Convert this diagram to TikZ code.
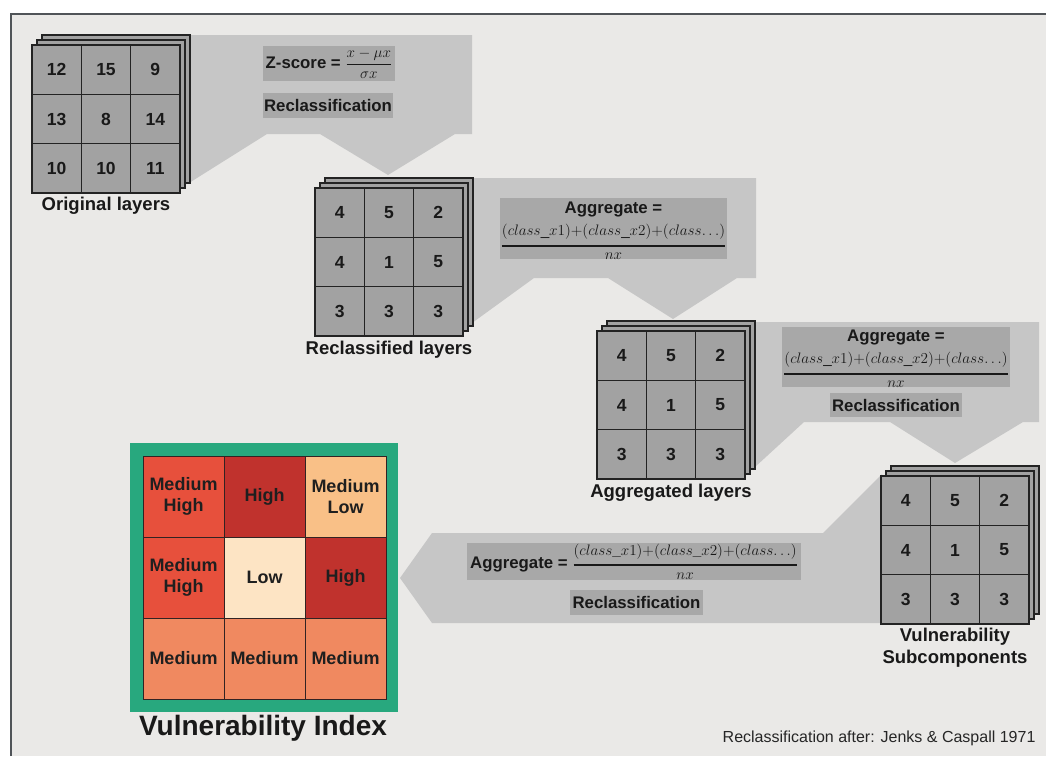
\RequirePackage{fix-cm}
\documentclass[tikz,border=0pt]{standalone}
\usepackage{amsmath}
\usepackage[no-math]{fontspec}
\setmainfont{Liberation Sans}
\definecolor{bgc}{RGB}{234,233,231}
\definecolor{frameline}{RGB}{80,84,88}
\definecolor{calloutgray}{RGB}{198,198,198}
\definecolor{boxgray}{RGB}{168,168,168}
\definecolor{cellgray}{RGB}{162,162,162}
\definecolor{gridline}{RGB}{35,35,35}
\definecolor{vline}{RGB}{50,35,35}
\definecolor{mhc}{RGB}{231,80,60}
\definecolor{hic}{RGB}{192,50,45}
\definecolor{mlc}{RGB}{249,192,135}
\definecolor{loc}{RGB}{253,228,196}
\definecolor{mec}{RGB}{240,137,96}
\definecolor{vgreen}{RGB}{40,168,126}
\newcommand\stackgrid[4]{%
  \draw[gridlayer] ({#2+10},{#3-10}) rectangle ++(148,148);
  \draw[gridlayer] ({#2+5},{#3-5}) rectangle ++(148,148);
  \foreach \v [count=\i from 0] in {#4} {%
    \pgfmathtruncatemacro\cc{mod(\i,3)}%
    \pgfmathtruncatemacro\rr{div(\i,3)}%
    \node[gcell] (#1-\i) at ({#2+24.67+49.33*\cc},{#3+24.67+49.33*\rr}) {\v};
  }%
}
\newcommand\aggfrac{\genfrac{}{}{1.8pt}{0}{(class\_x1){+}(class\_x2){+}(class{\ldots})}{nx}}
\begin{document}
\begin{tikzpicture}[x=1pt,y=-1pt,
  gridlayer/.style={draw=gridline, line width=1.3pt, fill=cellgray},
  gcell/.style={draw=gridline, line width=1.3pt, fill=cellgray, minimum width=49.33pt, minimum height=49.33pt, inner sep=0pt, font=\bfseries\fontsize{17.5}{17.5}\selectfont, text=black!90},
  calloutfill/.style={fill=calloutgray},
  formbox/.style={fill=boxgray, inner sep=0pt},
  formtext/.style={font=\bfseries\fontsize{16.8}{18}\selectfont, text=black!90, inner sep=0pt},
  mathtext/.style={font=\fontsize{15.2}{17}\selectfont, text=black!90, inner sep=0pt},
  layerlabel/.style={font=\bfseries\fontsize{18.5}{22}\selectfont, text=black!90, align=center},
  vcell/.style={draw=vline, line width=1pt, minimum width=81pt, minimum height=81pt, inner sep=0pt, align=center, font=\bfseries\fontsize{18}{21.5}\selectfont, text=black!88}
]
\useasboundingbox (0,0) rectangle (1046,756);
\fill[white] (0,0) rectangle (1046,756);
\fill[bgc] (11,14) rectangle (1046,756);
\draw[frameline, line width=2pt] (11,756) -- (11,14) -- (1046,14);

% callouts
\fill[calloutfill] (189,35) -- (472,35) -- (472,134) -- (455,134) -- (388,175) -- (320,134) -- (267,134) -- (189,183) -- cycle;
\fill[calloutfill] (472,178) -- (756,178) -- (756,278) -- (737,278) -- (673,319) -- (608,278) -- (534,278) -- (472,323) -- cycle;
\fill[calloutfill] (755,322) -- (1039,322) -- (1039,422) -- (1023,422) -- (955,463) -- (890,422) -- (804,422) -- (755,467) -- cycle;
\fill[calloutfill] (400,578) -- (432,533) -- (823,533) -- (882,474) -- (882,623) -- (432,623) -- cycle;

% grids
\stackgrid{ga}{32}{45}{12,15,9,13,8,14,10,10,11}
\stackgrid{gb}{315}{188}{4,5,2,4,1,5,3,3,3}
\stackgrid{gc}{597}{331}{4,5,2,4,1,5,3,3,3}
\stackgrid{gd}{881}{476}{4,5,2,4,1,5,3,3,3}

% labels
\node[layerlabel] (la) at (106,206) {Original layers};
\node[layerlabel] (lb) at (389,350) {Reclassified layers};
\node[layerlabel] (lc) at (671,493) {Aggregated layers};
\node[layerlabel] (ld) at (955,648) {Vulnerability\\Subcomponents};

% formula boxes 1
\node[formbox, minimum width=132pt, minimum height=35pt] (za) at (329,63.5) {};
\node[formtext] (zt) at (329,63.5) {Z-score = \fontsize{15.2}{17}\selectfont$\genfrac{}{}{1.2pt}{0}{x-\mu x}{\sigma x}$};
\node[formbox, minimum width=130pt, minimum height=25pt] (ra) at (328,105.5) {};
\node[formtext] (rat) at (328,105.5) {Reclassification};

% formula box 2
\node[formbox, minimum width=227pt, minimum height=61pt] (ab) at (613.5,228.5) {};
\node[formtext] (abt) at (613.5,209) {Aggregate =};
\node[mathtext] (abf) at (613.5,242) {$\aggfrac$};

% formula box 3
\node[formbox, minimum width=228pt, minimum height=60pt] (ac) at (896,357) {};
\node[formtext] (act) at (896,337) {Aggregate =};
\node[mathtext] (acf) at (896,370) {$\aggfrac$};
\node[formbox, minimum width=132pt, minimum height=24pt] (rc) at (896,405) {};
\node[formtext] (rct) at (896,405) {Reclassification};

% formula box 4
\node[formbox, minimum width=334pt, minimum height=37pt] (ad) at (634,561.5) {};
\node[formtext] (adt) at (634,561.5) {Aggregate = \fontsize{15.2}{17}\selectfont$\aggfrac$};
\node[formbox, minimum width=133pt, minimum height=25pt] (rd) at (636.5,602.5) {};
\node[formtext] (rdt) at (636.5,602.5) {Reclassification};

% vulnerability index
\node[fill=vgreen, minimum width=268pt, minimum height=269pt, inner sep=0pt] (vframe) at (264,577.5) {};
\node[vcell, fill=mhc] (v0) at (183.5,496.5) {Medium\\High};
\node[vcell, fill=hic] (v1) at (264.5,496.5) {High};
\node[vcell, fill=mlc] (v2) at (345.5,496.5) {Medium\\Low};
\node[vcell, fill=mhc] (v3) at (183.5,577.5) {Medium\\High};
\node[vcell, fill=loc] (v4) at (264.5,577.5) {Low};
\node[vcell, fill=hic] (v5) at (345.5,577.5) {High};
\node[vcell, fill=mec] (v6) at (183.5,658.5) {Medium};
\node[vcell, fill=mec] (v7) at (264.5,658.5) {Medium};
\node[vcell, fill=mec] (v8) at (345.5,658.5) {Medium};
\node[font=\bfseries\fontsize{28}{30}\selectfont, text=black!90] (vtitle) at (263,728) {Vulnerability Index};

\node[font=\fontsize{16}{18}\selectfont, text=black!85, anchor=east] (ref) at (1039,738) {Reclassification after: Jenks \& Caspall 1971};
\end{tikzpicture}
\end{document}
